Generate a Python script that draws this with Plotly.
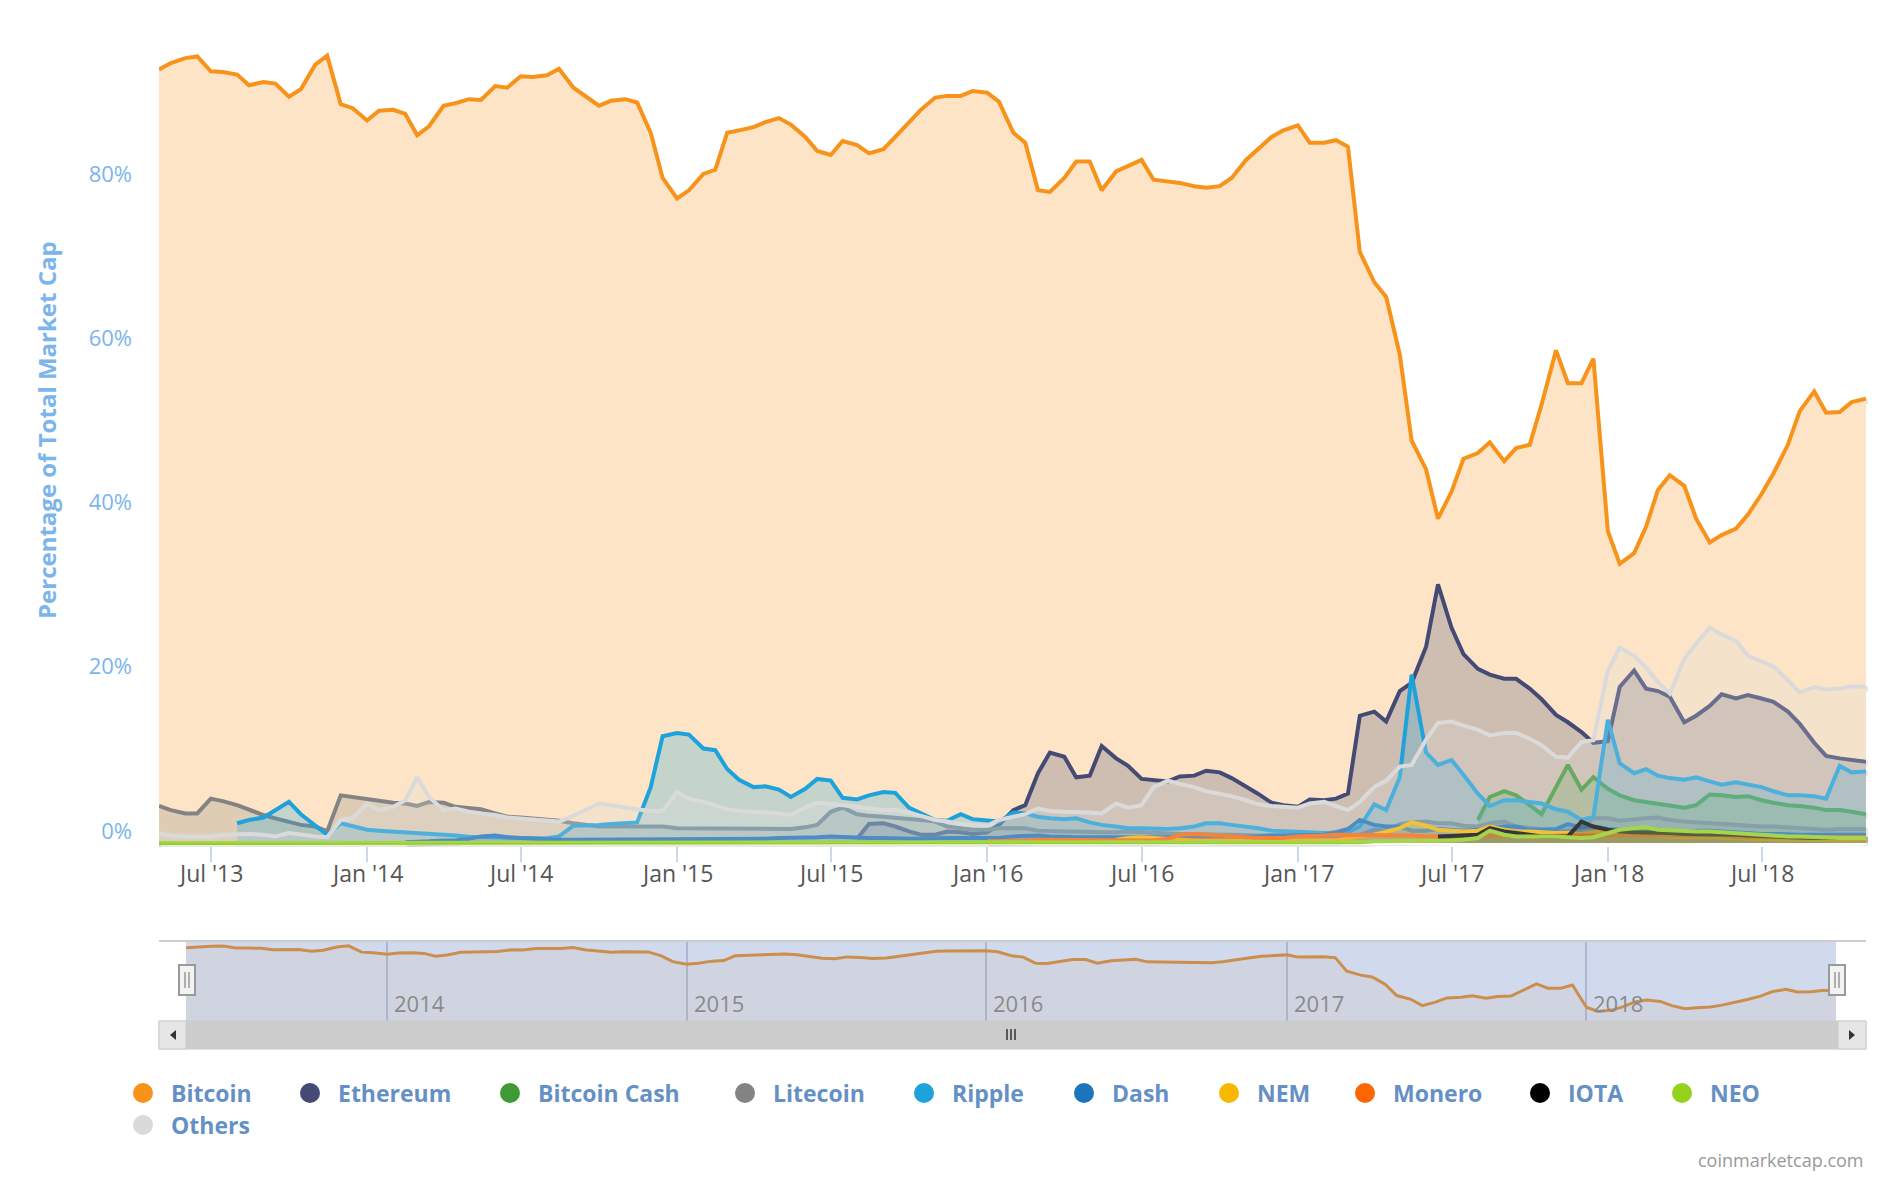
import pandas as pd
import plotly.graph_objects as go

# page is 1894x1180; the html body keeps an 8px margin, so the figure is 1878x1164
OFF = 8
W, H = 1894 - 2 * OFF, 1180 - 2 * OFF
FONT = "Open Sans"


def px(x):  # page pixel -> paper x
    return (x - OFF) / W


def py(y):  # page pixel (from top) -> paper y
    return 1 - (y - OFF) / H


# semi-monthly readings (1st and 15th of each month), % of total market cap
bitcoin = [
    # 2013 May-Dec
    94.2, 95.0, 95.6, 95.8, 94.0, 93.9, 93.6, 92.3, 92.7, 92.5, 90.9, 91.8, 94.8, 95.9, 90.0, 89.5,
    # 2014
    88.0, 89.2, 89.3, 88.8, 86.2, 87.3, 89.8, 90.1, 90.6, 90.5, 92.2, 92.0,
    93.4, 93.3, 93.5, 94.3, 92.0, 91.0, 89.8, 90.4, 90.6, 90.2, 86.5, 81.0,
    # 2015
    78.5, 79.5, 81.5, 82.0, 86.5, 86.8, 87.2, 87.8, 88.3, 87.5, 86.0, 84.3,
    83.8, 85.5, 85.0, 84.0, 84.5, 86.0, 87.8, 89.3, 90.8, 91.0, 91.0, 91.6,
    # 2016
    91.4, 90.3, 86.5, 85.3, 79.5, 79.3, 81.0, 83.0, 83.0, 79.5, 81.8, 82.5,
    83.2, 80.8, 80.6, 80.4, 80.0, 79.8, 80.0, 81.0, 83.2, 84.5, 86.0, 86.8,
    # 2017
    87.4, 85.3, 85.3, 85.6, 84.8, 72.0, 68.3, 66.5, 59.5, 49.0, 45.5, 39.5,
    42.8, 46.8, 47.5, 48.8, 46.5, 48.1, 48.5, 53.4, 60.0, 56.0, 56.0, 59.0,
    # 2018
    38.0, 34.0, 35.3, 38.5, 43.0, 44.8, 43.5, 39.5, 36.6, 37.5, 38.3, 40.0,
    42.5, 45.0, 48.5, 52.6, 55.0, 52.4, 52.5, 53.7, 54.1,
]

ethereum = [
    # 2015 Aug-Dec
    0.5, 2.3, 2.4, 2.0, 1.4, 1.0, 1.0, 1.4, 1.3, 1.1,
    # 2016
    1.3, 2.2, 4.0, 4.6, 8.5, 11.0, 10.5, 8.0, 8.2, 11.8, 10.3, 9.4,
    7.8, 7.7, 7.5, 8.1, 8.2, 8.8, 8.6, 7.9, 6.9, 6.0, 4.9, 4.6,
    # 2017
    4.4, 5.3, 5.2, 5.4, 6.0, 15.5, 16.0, 14.8, 18.5, 19.5, 23.9, 31.5,
    26.2, 23.0, 21.2, 20.5, 20.0, 20.0, 18.8, 17.5, 15.6, 14.7, 13.5, 12.2,
    # 2018
    12.4, 19.0, 21.0, 18.8, 18.5, 17.8, 14.7, 15.5, 16.7, 18.1, 17.6, 18.0,
    17.6, 17.2, 16.0, 14.5, 12.2, 10.6, 10.3, 10.1, 9.9,
]

bitcoin_cash = [
    # 2017 Aug-Dec
    2.8, 5.6, 6.3, 5.8, 4.6, 3.5, 6.8, 9.5, 6.5, 8.0,
    # 2018
    6.6, 5.8, 5.2, 5.0, 4.7, 4.5, 4.3, 4.6, 5.9, 5.8, 5.6, 5.7,
    5.2, 4.9, 4.6, 4.5, 4.3, 4.0, 4.0, 3.8, 3.5,
]

litecoin = [
    # 2013 May-Dec
    4.5, 4.0, 3.6, 3.6, 5.4, 5.1, 4.6, 4.0, 3.4, 3.0, 2.6, 2.2, 2.0, 1.4, 5.8, 5.6,
    # 2014
    5.3, 5.2, 4.9, 4.8, 4.5, 5.0, 4.9, 4.4, 4.2, 4.1, 3.6, 3.2,
    3.1, 3.0, 2.8, 2.7, 2.4, 2.2, 2.0, 2.0, 2.0, 2.1, 2.1, 2.0,
    # 2015
    1.8, 1.8, 1.8, 1.8, 1.8, 1.7, 1.7, 1.7, 1.7, 1.7, 1.9, 2.2,
    3.8, 4.3, 3.5, 3.3, 3.2, 3.1, 3.0, 2.8, 2.6, 2.0, 1.8, 1.6,
    # 2016
    1.6, 1.8, 1.8, 1.8, 1.5, 1.4, 1.4, 1.4, 1.3, 1.3, 1.3, 1.4,
    1.3, 1.2, 1.2, 1.1, 1.1, 1.0, 1.0, 1.0, 0.9, 0.9, 0.9, 0.8,
    # 2017
    0.8, 0.8, 0.8, 0.8, 0.9, 1.0, 1.6, 1.5, 2.3, 2.5, 2.6, 2.4,
    2.4, 2.1, 2.0, 2.4, 2.6, 2.0, 1.8, 1.6, 1.5, 1.5, 1.8, 3.0,
    # 2018
    3.0, 2.7, 2.8, 3.0, 3.1, 2.8, 2.6, 2.5, 2.4, 2.3, 2.2, 2.1,
    2.0, 2.0, 1.9, 1.7, 1.6, 1.6, 1.7, 1.7, 1.7,
]

ripple = [
    # 2013 Aug-Dec
    2.4, 2.8, 3.1, 4.0, 5.0, 3.5, 2.1, 1.0, 2.4, 2.0,
    # 2014
    1.6, 1.5, 1.4, 1.3, 1.25, 1.2, 1.1, 0.9, 0.75, 0.7, 0.65, 0.6,
    0.57, 0.57, 0.57, 0.8, 2.1, 2.1, 2.2, 2.3, 2.4, 2.5, 6.8, 13.0,
    # 2015
    13.4, 13.2, 11.5, 11.3, 9.0, 7.7, 6.8, 6.9, 6.5, 5.6, 6.6, 7.8,
    7.6, 5.5, 5.3, 5.8, 6.2, 6.1, 4.3, 3.6, 2.8, 2.7, 3.5, 2.9,
    # 2016
    2.8, 2.6, 3.7, 3.6, 3.2, 3.0, 2.9, 3.0, 2.5, 2.2, 2.0, 1.8,
    1.8, 1.7, 1.7, 1.8, 2.0, 2.4, 2.4, 2.2, 2.0, 1.8, 1.5, 1.4,
    # 2017
    1.3, 1.3, 1.2, 1.2, 1.3, 2.0, 4.7, 4.0, 8.0, 20.5, 11.0, 9.5,
    10.1, 8.3, 6.0, 4.5, 5.2, 5.2, 5.0, 4.8, 4.1, 3.8, 2.8, 3.2,
    # 2018
    15.0, 9.7, 8.5, 9.0, 8.2, 7.9, 7.7, 8.0, 7.5, 7.1, 7.4, 7.1,
    6.8, 6.3, 5.8, 5.8, 5.7, 5.4, 9.4, 8.6, 8.7,
]

dash = [
    # 2014 Feb 15 - Dec
    0.1, 0.1, 0.2, 0.3, 0.3, 0.5, 0.8, 0.9, 0.7, 0.6, 0.5,
    0.5, 0.4, 0.4, 0.4, 0.4, 0.4, 0.4, 0.4, 0.4, 0.4,
    # 2015
    0.5, 0.5, 0.5, 0.5, 0.5, 0.5, 0.5, 0.5, 0.6, 0.6, 0.7, 0.7,
    0.8, 0.7, 0.6, 0.6, 0.6, 0.5, 0.5, 0.5, 0.6, 0.6, 0.6, 0.6,
    # 2016
    0.6, 0.6, 0.8, 0.9, 0.9, 0.8, 0.7, 0.7, 0.7, 0.7, 0.6, 0.6,
    0.6, 0.6, 0.6, 0.7, 0.8, 0.7, 0.7, 0.7, 0.7, 0.8, 0.9, 0.9,
    # 2017
    0.9, 0.9, 1.0, 1.3, 1.7, 2.8, 2.2, 2.0, 2.0, 1.5, 1.5, 1.7,
    1.6, 1.5, 1.6, 1.8, 2.0, 2.0, 1.6, 1.6, 1.7, 2.3, 1.9, 2.0,
    # 2018
    1.7, 1.6, 1.5, 1.6, 1.4, 1.3, 1.3, 1.5, 1.5, 1.4, 1.3, 1.2,
    1.1, 1.1, 1.0, 1.0, 1.0, 1.0, 1.0, 1.0, 1.0,
]

nem = [
    # 2016 Jun-Dec
    0.4, 0.6, 0.7, 0.6, 0.5, 0.4, 0.3, 0.3, 0.3, 0.3, 0.3, 0.3, 0.3, 0.3,
    # 2017
    0.3, 0.3, 0.3, 0.3, 0.5, 0.8, 1.0, 1.4, 1.8, 2.5, 2.1, 1.6,
    1.5, 1.4, 1.5, 2.0, 1.6, 1.4, 1.4, 1.3, 1.2, 1.2, 1.1, 1.3,
    # 2018
    1.4, 1.1, 0.9, 0.9, 0.8, 0.7, 0.7, 0.8, 0.8, 0.7, 0.6, 0.5,
    0.5, 0.4, 0.4, 0.4, 0.4, 0.3, 0.3, 0.3, 0.3,
]

monero = [
    # 2016
    0.2, 0.2, 0.2, 0.3, 0.4, 0.4, 0.3, 0.3, 0.3, 0.3, 0.3, 0.3,
    0.3, 0.3, 0.5, 1.0, 1.1, 1.0, 0.8, 0.7, 0.6, 0.6, 0.6, 0.6,
    # 2017
    0.8, 0.8, 0.9, 1.0, 1.0, 1.0, 0.9, 0.9, 0.9, 0.9, 0.8, 0.8,
    0.8, 0.8, 0.9, 0.9, 0.9, 0.9, 0.7, 0.7, 0.9, 0.9, 0.8, 0.8,
    # 2018
    0.9, 0.9, 0.9, 0.9, 0.8, 0.8, 0.9, 0.9, 0.9, 0.9, 0.7, 0.7,
    0.7, 0.7, 0.7, 0.7, 0.7, 0.7, 0.7, 0.7, 0.7,
]

iota = [
    # 2017 Jun 15 - Dec
    0.8, 0.9, 0.9, 1.0, 1.8, 1.4, 1.2, 1.0, 0.8, 0.8, 0.8, 2.6, 2.0,
    # 2018
    1.6, 1.4, 1.3, 1.3, 1.2, 1.2, 1.1, 1.1, 1.1, 1.0, 1.0, 0.9,
    0.9, 0.8, 0.7, 0.6, 0.6, 0.6, 0.6, 0.6, 0.6,
]

neo = [
    # 2013 May-Dec
    0, 0, 0, 0, 0, 0, 0, 0, 0, 0, 0, 0, 0, 0, 0, 0,
    # 2014
    0, 0, 0, 0, 0, 0, 0, 0, 0, 0, 0, 0,
    0, 0, 0, 0, 0, 0, 0, 0, 0, 0, 0, 0,
    # 2015
    0, 0, 0, 0, 0, 0, 0, 0, 0, 0, 0, 0,
    0, 0, 0, 0, 0, 0, 0, 0, 0, 0, 0, 0,
    # 2016
    0, 0, 0, 0, 0, 0, 0, 0, 0, 0, 0, 0,
    0, 0, 0, 0, 0.1, 0.1, 0.1, 0.1, 0.1, 0.1, 0.1, 0.1,
    # 2017
    0.1, 0.1, 0.1, 0.1, 0.1, 0.1, 0.2, 0.2, 0.3, 0.3, 0.3, 0.3,
    0.3, 0.4, 0.6, 1.5, 1.0, 0.8, 0.8, 0.9, 0.8, 0.7, 0.6, 0.7,
    # 2018
    1.2, 1.6, 1.8, 1.9, 1.6, 1.5, 1.4, 1.4, 1.4, 1.3, 1.2, 1.1,
    1.0, 0.9, 0.8, 0.8, 0.7, 0.7, 0.6, 0.6, 0.6,
]

others = [
    # 2013 May-Dec
    1.2, 0.9, 0.8, 0.8, 0.8, 1.0, 1.1, 1.1, 1.0, 0.8, 1.2, 1.0, 0.8, 0.7, 2.8, 3.0,
    # 2014
    4.8, 4.0, 4.4, 5.2, 8.0, 5.6, 4.0, 4.2, 3.8, 3.6, 3.4, 3.1,
    3.0, 2.9, 2.7, 2.6, 3.3, 4.0, 4.8, 4.6, 4.3, 4.1, 3.9, 3.9,
    # 2015
    6.2, 5.4, 5.0, 4.6, 4.1, 3.9, 3.8, 3.7, 3.6, 3.4, 4.3, 4.9,
    4.8, 4.6, 4.4, 4.2, 4.0, 4.0, 3.7, 3.3, 2.8, 2.6, 2.3, 2.2,
    # 2016
    2.1, 2.8, 3.2, 3.5, 4.2, 3.9, 3.8, 3.8, 3.7, 3.6, 4.8, 4.3,
    4.6, 6.8, 7.6, 7.2, 6.8, 6.3, 6.0, 5.7, 5.2, 4.7, 4.5, 4.4,
    # 2017
    4.3, 4.8, 5.0, 4.5, 4.0, 5.0, 6.8, 7.6, 9.3, 9.5, 12.6, 14.6,
    14.8, 14.3, 13.8, 13.1, 13.4, 13.4, 12.7, 11.9, 10.5, 10.4, 12.3, 12.5,
    # 2018
    21.0, 23.8, 22.8, 21.4, 19.6, 18.2, 22.4, 24.3, 26.2, 25.4, 24.6, 22.8,
    22.1, 21.5, 19.8, 18.3, 19.0, 18.7, 18.8, 19.1, 19.0,
]

# name, first reading, values, colour
series = [
    ("Bitcoin", "2013-05-01", bitcoin, "#f7931a"),
    ("Ethereum", "2015-08-01", ethereum, "#454a75"),
    ("Bitcoin Cash", "2017-08-01", bitcoin_cash, "#3e9a35"),
    ("Litecoin", "2013-05-01", litecoin, "#838383"),
    ("Ripple", "2013-08-01", ripple, "#1ea2dc"),
    ("Dash", "2014-02-15", dash, "#1c75bc"),
    ("NEM", "2016-06-01", nem, "#f8b800"),
    ("Monero", "2016-01-01", monero, "#ff6600"),
    ("IOTA", "2017-06-15", iota, "#000000"),
    ("NEO", "2013-05-01", neo, "#94d21e"),
    ("Others", "2013-05-01", others, "#dadada"),
]

tick_dates = ["2013-07-01", "2014-01-01", "2014-07-01", "2015-01-01", "2015-07-01",
              "2016-01-01", "2016-07-01", "2017-01-01", "2017-07-01", "2018-01-01",
              "2018-07-01"]
tick_text = ["Jul '13", "Jan '14", "Jul '14", "Jan '15", "Jul '15", "Jan '16",
             "Jul '16", "Jan '17", "Jul '17", "Jan '18", "Jul '18"]
nav_years = ["2014", "2015", "2016", "2017", "2018"]


def rgba(hex_color, a):
    h = hex_color.lstrip("#")
    r, g, b = int(h[0:2], 16), int(h[2:4], 16), int(h[4:6], 16)
    return f"rgba({r},{g},{b},{a})"


fig = go.Figure()

# soft drop shadows under the lines (drawn on a subplot shifted by 2px)
for name, start, vals, col in series:
    dates = pd.date_range(start, periods=len(vals), freq="SMS")
    fig.add_trace(go.Scatter(
        x=dates, y=vals, mode="lines", line=dict(color="rgba(0,0,0,0.09)", width=6),
        showlegend=False, hoverinfo="skip", xaxis="x3", yaxis="y3",
    ))

# navigator series
fig.add_trace(go.Scatter(
    x=pd.date_range("2013-05-01", periods=len(bitcoin), freq="SMS"), y=bitcoin,
    mode="lines", line=dict(color="#f7931a", width=3),
    fill="tozeroy", fillcolor="rgba(247,147,26,0.08)",
    showlegend=False, xaxis="x2", yaxis="y2", hoverinfo="skip",
))

# the area series
for name, start, vals, col in series:
    dates = pd.date_range(start, periods=len(vals), freq="SMS")
    fig.add_trace(go.Scatter(
        x=dates, y=vals, name=name, mode="lines",
        line=dict(color=col, width=4),
        fill="tozeroy", fillcolor=rgba(col, 0.25),
        showlegend=False, xaxis="x4", yaxis="y4",
    ))

x_range = ["2013-05-01", "2018-11-01"]
y_range = [-0.25, 100]
main_x = [px(159), px(1866)]
main_y = [py(845), py(22)]
hidden = dict(showticklabels=False, showgrid=False, zeroline=False, showline=False, ticks="")

fig.update_layout(
    width=W, height=H, autosize=False,
    margin=dict(l=0, r=0, t=0, b=0),
    paper_bgcolor="white", plot_bgcolor="white",
    font=dict(family=FONT, color="#555555"),
    xaxis=dict(
        domain=main_x, range=x_range, type="date",
        tickvals=tick_dates, showticklabels=False,
        showgrid=False, zeroline=False,
        showline=True, linecolor="#ccd6eb", linewidth=2,
        ticks="outside", ticklen=15, tickwidth=2, tickcolor="#ccd6eb",
        anchor="y",
    ),
    yaxis=dict(
        domain=main_y, range=y_range,
        tickvals=[0, 20, 40, 60, 80, 100],
        ticktext=["0%", "20%", "40%", "60%", "80%", ""],
        showgrid=True, gridcolor="#e6e6e6", gridwidth=2,
        zeroline=False, showline=False, ticks="",
        tickfont=dict(size=22, color="#7cb5ec", family=FONT),
        ticklabelstandoff=26, ticklabelshift=-12,
        anchor="x",
    ),
    xaxis2=dict(
        domain=[px(186), px(1836)], range=x_range, type="date",
        tickvals=[f"{y}-01-01" for y in nav_years],
        showticklabels=False, showgrid=True, gridcolor="#c9cfdb", gridwidth=2,
        zeroline=False, showline=False, ticks="", anchor="y2",
    ),
    yaxis2=dict(domain=[py(1021), py(941)], range=[25, 100.5], anchor="x2", **hidden),
    xaxis3=dict(domain=[px(161), px(1868)], range=x_range, type="date", anchor="y3", **hidden),
    yaxis3=dict(domain=[py(847), py(24)], range=y_range, anchor="x3", **hidden),
    xaxis4=dict(domain=main_x, range=x_range, type="date", anchor="y4", **hidden),
    yaxis4=dict(domain=main_y, range=y_range, anchor="x4", **hidden),
)

shapes = []
annotations = []

# x tick labels of the main axis
for d, t in zip(tick_dates, tick_text):
    annotations.append(dict(x=d, xref="x", y=py(873), yref="paper", text=t,
                            showarrow=False, xanchor="center", yanchor="middle",
                            font=dict(size=23, color="#555555", family=FONT)))

# navigator mask, outline and scrollbar
shapes.append(dict(type="rect", xref="paper", yref="paper", layer="above",
                   x0=px(186), x1=px(1836), y0=py(1021), y1=py(941),
                   fillcolor="rgba(102,133,194,0.3)", line=dict(width=0)))
shapes.append(dict(type="line", xref="paper", yref="paper", layer="above",
                   x0=px(159), x1=px(1866), y0=py(941), y1=py(941),
                   line=dict(color="#cccccc", width=2)))
shapes.append(dict(type="rect", xref="paper", yref="paper", layer="above",
                   x0=px(159), x1=px(1866), y0=py(1049), y1=py(1021),
                   fillcolor="#cccccc", line=dict(color="#cccccc", width=1)))
for bx0, bx1 in [(159, 186), (1838, 1866)]:
    shapes.append(dict(type="rect", xref="paper", yref="paper", layer="above",
                       x0=px(bx0), x1=px(bx1), y0=py(1049), y1=py(1021),
                       fillcolor="#e6e6e6", line=dict(color="#cccccc", width=1)))
# scrollbar arrows
shapes.append(dict(type="path", xref="paper", yref="paper", layer="above",
                   path=f"M {px(170)} {py(1035)} L {px(176)} {py(1030)} L {px(176)} {py(1040)} Z",
                   fillcolor="#333333", line=dict(width=0)))
shapes.append(dict(type="path", xref="paper", yref="paper", layer="above",
                   path=f"M {px(1855)} {py(1035)} L {px(1849)} {py(1030)} L {px(1849)} {py(1040)} Z",
                   fillcolor="#333333", line=dict(width=0)))
# scrollbar grip
for gx in (1007, 1011, 1015):
    shapes.append(dict(type="line", xref="paper", yref="paper", layer="above",
                       x0=px(gx), x1=px(gx), y0=py(1040), y1=py(1029),
                       line=dict(color="#333333", width=1.5)))
# navigator handles
for hx in (187, 1837):
    shapes.append(dict(type="rect", xref="paper", yref="paper", layer="above",
                       x0=px(hx - 8), x1=px(hx + 8), y0=py(995), y1=py(965),
                       fillcolor="#f2f2f2", line=dict(color="#999999", width=2)))
    for gx in (hx - 2, hx + 2):
        shapes.append(dict(type="line", xref="paper", yref="paper", layer="above",
                           x0=px(gx), x1=px(gx), y0=py(988), y1=py(972),
                           line=dict(color="#999999", width=1.5)))

# navigator year labels
for y in nav_years:
    annotations.append(dict(x=f"{y}-01-01", xref="x2", y=py(1003), yref="paper",
                            text=y, showarrow=False, xanchor="left", yanchor="middle",
                            xshift=5, font=dict(size=22, color="#8a8a8a", family=FONT)))

# legend drawn as circles + labels
legend_items = [
    ("Bitcoin", 143, 1093), ("Ethereum", 310, 1093), ("Bitcoin Cash", 510, 1093),
    ("Litecoin", 745, 1093), ("Ripple", 924, 1093), ("Dash", 1084, 1093),
    ("NEM", 1229, 1093), ("Monero", 1365, 1093), ("IOTA", 1540, 1093),
    ("NEO", 1682, 1093), ("Others", 143, 1125),
]
colors = {name: col for name, _, _, col in series}
for name, cx, cy in legend_items:
    r = 10
    shapes.append(dict(type="circle", xref="paper", yref="paper",
                       x0=px(cx - r), x1=px(cx + r), y0=py(cy + r), y1=py(cy - r),
                       fillcolor=colors[name], line=dict(width=0)))
    annotations.append(dict(x=px(cx + 26), y=py(cy), xref="paper", yref="paper",
                            text=f"<b>{name}</b>", showarrow=False,
                            xanchor="left", yanchor="middle",
                            font=dict(size=23, color="#6590c6", family=FONT)))

# axis title and credits
annotations.append(dict(x=px(46), y=py(430), xref="paper", yref="paper",
                        text="<b>Percentage of Total Market Cap</b>", textangle=-90,
                        showarrow=False, xanchor="center", yanchor="middle",
                        font=dict(size=24, color="#7cb5ec", family=FONT)))
annotations.append(dict(x=px(1866), y=py(1160), xref="paper", yref="paper",
                        text="coinmarketcap.com", showarrow=False,
                        xanchor="right", yanchor="middle",
                        font=dict(size=18, color="#999999", family=FONT)))

fig.update_layout(shapes=shapes, annotations=annotations)

fig.write_html("out.html")
